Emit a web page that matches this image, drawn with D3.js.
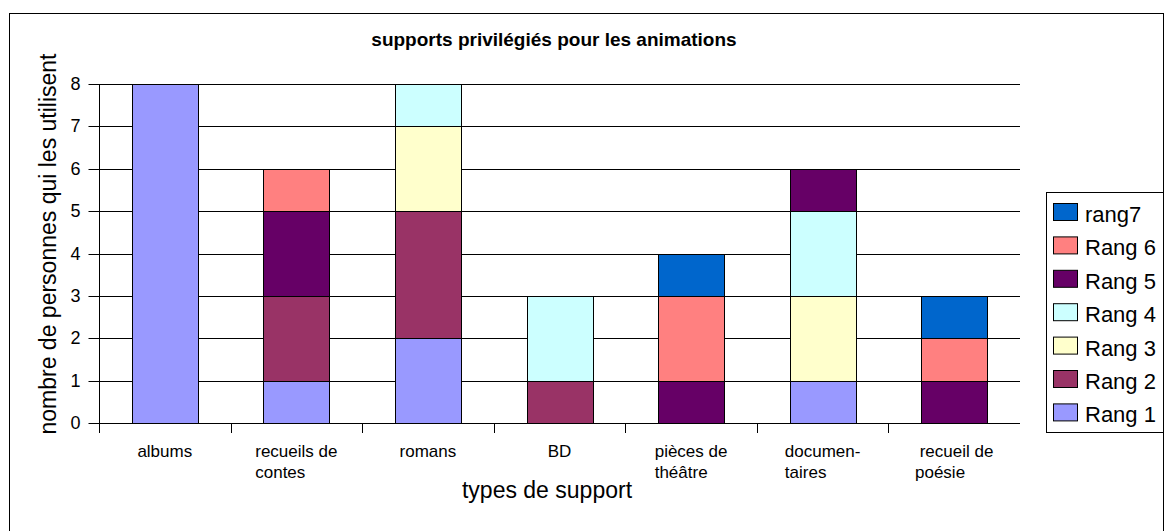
<!DOCTYPE html>
<html>
<head>
<meta charset="utf-8">
<title>supports privilégiés pour les animations</title>
<script src="https://d3js.org/d3.v7.min.js"></script>
<style>
  body { margin: 0; background: #fff; }
  svg { font-family: "Liberation Sans", Arial, sans-serif; display: block; }
  text { white-space: pre; }
</style>
</head>
<body>
<div id="chart"></div>
<script>
// data
const categories = ["albums", "recueils de contes", "romans", "BD", "pièces de théâtre", "documentaires", "recueil de poésie"];
const categoryLines = [["albums"], ["recueils de", "contes"], ["romans"], ["BD"], ["pièces de", "théâtre"], ["documen-", "taires"], [" recueil de", "poésie"]];
const seriesNames = ["Rang 1", "Rang 2", "Rang 3", "Rang 4", "Rang 5", "Rang 6", "rang7"];
const rang1 = [8, 1, 2, 0, 0, 1, 0];
const rang2 = [0, 2, 3, 1, 0, 0, 0];
const rang3 = [0, 0, 2, 0, 0, 2, 0];
const rang4 = [0, 0, 1, 2, 0, 2, 0];
const rang5 = [0, 2, 0, 0, 1, 1, 1];
const rang6 = [0, 1, 0, 0, 2, 0, 1];
const rang7 = [0, 0, 0, 0, 1, 0, 1];
const yTicks = [0, 1, 2, 3, 4, 5, 6, 7, 8];
const colors = ["#9999FF", "#993366", "#FFFFCC", "#CCFFFF", "#660066", "#FF8080", "#0066CC"];

const allSeries = [rang1, rang2, rang3, rang4, rang5, rang6, rang7];
const table = categories.map((c, i) => {
  const row = {cat: c};
  seriesNames.forEach((s, k) => row[s] = allSeries[k][i]);
  return row;
});

const W = 1165, H = 531;
const plot = {left: 99, right: 1020, top: 84, bottom: 423};

const svg = d3.select("#chart").append("svg")
  .attr("width", W).attr("height", H);

// outer frame (bottom edge falls outside the picture)
svg.append("rect")
  .attr("x", 9.5).attr("y", 13.5)
  .attr("width", 1154).attr("height", 600)
  .attr("fill", "none").attr("stroke", "#000");

const x = d3.scaleBand().domain(categories).range([plot.left, plot.right]);
const y = d3.scaleLinear().domain([0, 8]).range([plot.bottom, plot.top]);

// gridlines
svg.append("g")
  .selectAll("line")
  .data(yTicks.filter(d => d > 0))
  .join("line")
  .attr("x1", plot.left).attr("x2", plot.right)
  .attr("y1", d => Math.round(y(d)) + 0.5).attr("y2", d => Math.round(y(d)) + 0.5)
  .attr("stroke", "#000");

// stacked bars
const stack = d3.stack().keys(seriesNames)(table);
const barW = x.bandwidth() / 2;
svg.append("g")
  .selectAll("g")
  .data(stack)
  .join("g")
  .attr("fill", (d, i) => colors[i])
  .selectAll("rect")
  .data(d => d.filter(p => p[1] > p[0]))
  .join("rect")
  .attr("x", d => Math.round(x(d.data.cat) + barW / 2) + 0.5)
  .attr("y", d => Math.round(y(d[1])) + 0.5)
  .attr("width", Math.round(barW))
  .attr("height", d => Math.round(y(d[0])) - Math.round(y(d[1])))
  .attr("stroke", "#000")
  .attr("stroke-width", 1);

// y axis
const yAxis = svg.append("g")
  .attr("transform", `translate(${plot.left + 0.5},0)`)
  .call(d3.axisLeft(y).tickValues(yTicks).tickSize(11).tickPadding(8).tickFormat(d3.format("d")));
yAxis.select(".domain").attr("stroke", "#000").attr("d", `M0,${plot.top}V${plot.bottom + 10}`);
yAxis.selectAll(".tick line").attr("stroke", "#000");
yAxis.selectAll(".tick text").attr("font-size", 18).attr("font-family", "Liberation Sans, Arial").attr("fill", "#000");
yAxis.selectAll(".tick").attr("transform", d => `translate(0,${Math.round(y(d)) + 0.5})`);

// x axis line and ticks
const xAxis = svg.append("g");
xAxis.append("line")
  .attr("x1", plot.left).attr("x2", plot.right)
  .attr("y1", plot.bottom + 0.5).attr("y2", plot.bottom + 0.5)
  .attr("stroke", "#000");
xAxis.selectAll(".xt")
  .data(categories)
  .join("line")
  .attr("class", "xt")
  .attr("x1", d => Math.round(x(d)) + 0.5).attr("x2", d => Math.round(x(d)) + 0.5)
  .attr("y1", plot.bottom).attr("y2", plot.bottom + 10)
  .attr("stroke", "#000");

// category labels (block centred, lines left-aligned)
categories.forEach((c, i) => {
  const g = svg.append("g");
  const t = g.selectAll("text")
    .data(categoryLines[i])
    .join("text")
    .attr("font-size", 17)
    .attr("y", (d, j) => 457 + j * 21)
    .text(d => d);
  let maxW = 0;
  t.each(function () { maxW = Math.max(maxW, this.getComputedTextLength()); });
  t.attr("x", x(c) + x.bandwidth() / 2 - maxW / 2);
});

// titles
svg.append("text")
  .attr("x", 554).attr("y", 46)
  .attr("text-anchor", "middle")
  .attr("font-size", 19).attr("font-weight", "bold")
  .text("supports privilégiés pour les animations");

svg.append("text")
  .attr("x", 547).attr("y", 498)
  .attr("text-anchor", "middle")
  .attr("font-size", 23)
  .text("types de support");

svg.append("text")
  .attr("transform", "translate(55.5,244) rotate(-90)")
  .attr("text-anchor", "middle")
  .attr("font-size", 23)
  .text("nombre de personnes qui les utilisent");

// legend
const legend = svg.append("g");
legend.append("rect")
  .attr("x", 1046.5).attr("y", 192.5)
  .attr("width", 117).attr("height", 240)
  .attr("fill", "#fff").attr("stroke", "#000");
const order = seriesNames.map((s, i) => i).reverse();
const item = legend.selectAll(".item")
  .data(order)
  .join("g")
  .attr("class", "item")
  .attr("transform", (d, j) => `translate(1053,${203 + j * 33.4})`);
item.append("rect")
  .attr("x", 0.5).attr("y", 0.5)
  .attr("width", 24).attr("height", 17)
  .attr("fill", d => colors[d]).attr("stroke", "#000");
item.append("text")
  .attr("x", 32).attr("y", 19)
  .attr("font-size", 22)
  .text(d => seriesNames[d]);
</script>
</body>
</html>
